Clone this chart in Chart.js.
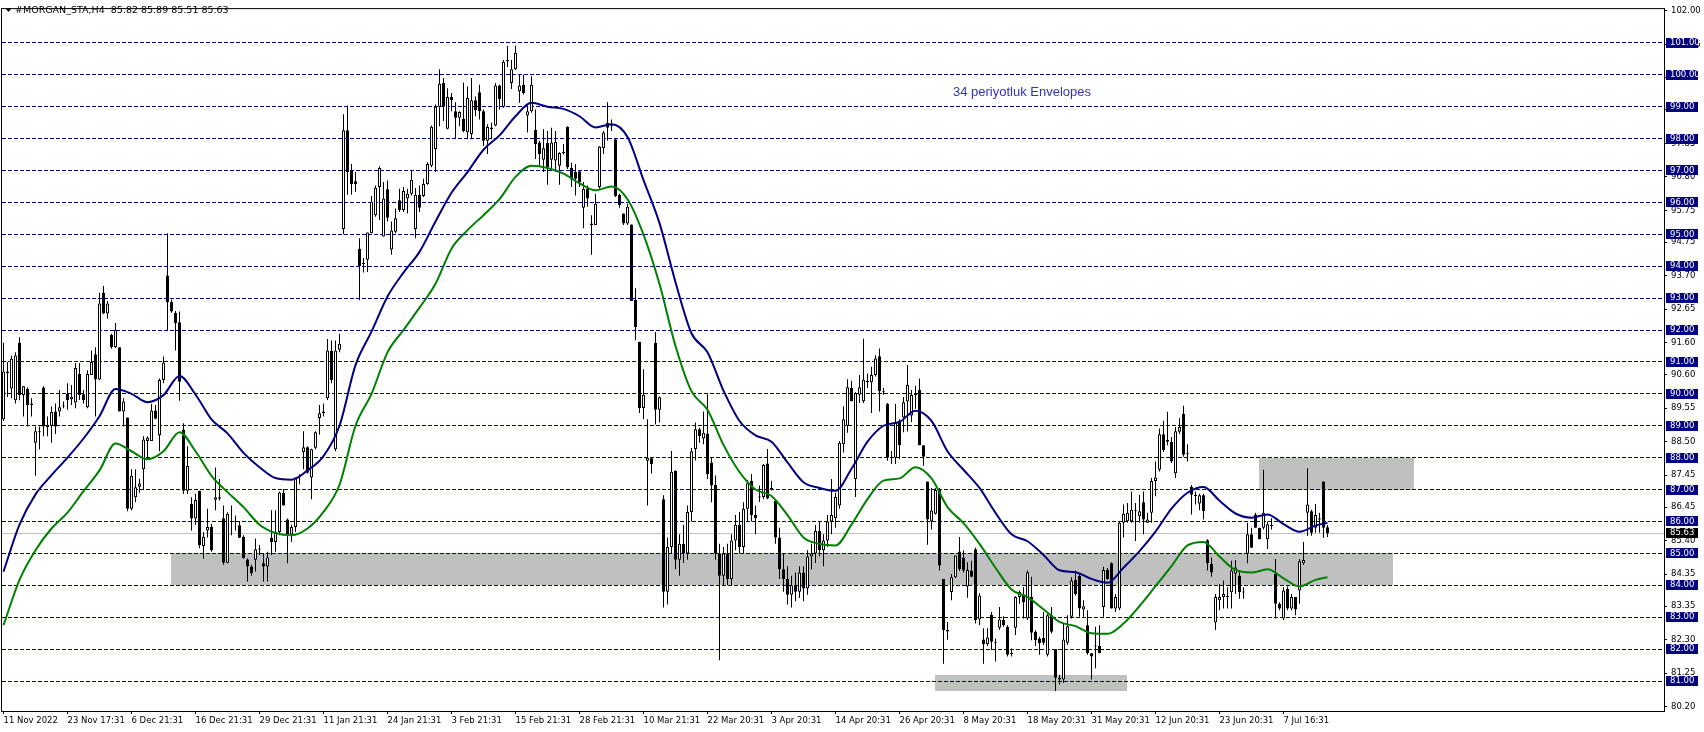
<!DOCTYPE html>
<html>
<head>
<meta charset="utf-8">
<script src="https://cdn.jsdelivr.net/npm/chart.js@4.4.1/dist/chart.umd.min.js"></script>
<style>
  html, body { margin: 0; padding: 0; background: #fff; }
  canvas { display: block; }
</style>
</head>
<body>
<canvas id="chart" width="1704" height="732"></canvas>
<script>
// H4 candles, bar index 0..331
const opens = [
  89.2, 90.7, 90.17, 89.8, 91.6, 89.96, 90.15, 89.7, 88.47, 88.83,
  90.2, 88.96, 89.0, 89.45, 89.45, 89.6, 90.0, 89.83, 89.73, 90.62,
  89.99, 89.58, 90.59, 91.24, 90.45, 93.17, 92.52, 91.85, 91.46, 91.46,
  89.45, 89.26, 86.4, 86.76, 87.09, 87.64, 88.52, 88.52, 89.48, 88.7,
  90.43, 93.71, 92.88, 92.53, 92.24, 88.88, 86.96, 86.55, 86.09, 86.96,
  85.23, 85.72, 85.83, 86.68, 86.71, 86.1, 84.71, 85.99, 86.0, 85.88,
  85.52, 84.81, 84.59, 84.8, 85.13, 84.69, 84.59, 85.5, 85.36, 85.67,
  86.89, 86.06, 85.59, 85.83, 87.4, 88.18, 88.33, 87.38, 88.31, 89.24,
  89.4, 89.86, 91.34, 88.26, 91.38, 95.17, 98.26, 97.02, 96.66, 94.55,
  94.07, 94.2, 95.03, 95.6, 96.48, 94.93, 96.41, 94.52, 95.08, 96.07,
  95.76, 96.12, 96.27, 95.17, 96.24, 96.2, 96.58, 97.15, 97.67, 99.0,
  99.74, 98.31, 99.3, 98.86, 98.65, 98.62, 98.2, 98.14, 99.2, 99.45,
  98.86, 97.93, 98.35, 98.41, 99.66, 99.0, 100.42, 99.74, 100.17, 99.48,
  99.69, 98.72, 98.86, 98.27, 97.88, 97.34, 97.86, 97.34, 97.31, 97.15,
  97.55, 98.37, 97.08, 96.95, 96.98, 95.83, 96.43, 95.34, 95.29, 96.48,
  97.7, 98.5, 98.4, 97.98, 96.24, 95.65, 95.34, 95.31, 92.94, 91.63,
  89.56, 87.9, 87.98, 91.6, 89.5, 86.7, 83.8, 85.2, 87.59, 84.8,
  85.3, 85.0, 86.3, 88.27, 88.89, 88.6, 88.76, 87.85, 87.15, 85.0,
  84.3, 85.0, 84.2, 85.4, 85.9, 85.2, 86.4, 87.28, 86.2, 86.75,
  86.77, 87.82, 87.0, 86.65, 85.5, 84.5, 84.2, 83.7, 84.0, 83.8,
  84.4, 83.9, 84.9, 85.0, 85.7, 85.1, 85.4, 86.0, 86.1, 86.5,
  88.42, 89.0, 90.18, 87.33, 89.97, 89.77, 90.36, 90.36, 90.59, 91.18,
  90.08, 89.69, 88.0, 88.0, 89.14, 89.26, 89.76, 89.32, 89.96, 90.12,
  88.39, 87.25, 86.0, 86.24, 86.99, 84.2, 82.6, 83.79, 84.25, 85.06,
  84.87, 83.96, 84.46, 85.13, 82.93, 82.3, 82.15, 83.07, 82.23, 82.67,
  82.91, 82.7, 81.87, 82.67, 83.63, 83.71, 82.96, 83.63, 82.54, 82.33,
  82.35, 81.82, 83.06, 82.0, 81.1, 81.05, 82.2, 83.01, 84.17, 84.3,
  83.24, 82.75, 81.87, 82.08, 82.1, 83.32, 84.48, 84.69, 83.27, 83.27,
  85.96, 86.01, 86.01, 86.32, 86.16, 86.6, 85.96, 86.27, 87.27, 87.62,
  88.73, 88.5, 88.5, 87.51, 88.81, 89.37, 88.14, 87.09, 86.8, 86.56,
  86.82, 85.41, 84.67, 82.83, 83.53, 83.63, 83.63, 83.78, 84.36, 84.3,
  83.79, 84.99, 85.6, 86.22, 85.8, 85.8, 85.44, 85.86, 84.35, 83.42,
  82.96, 83.89, 83.27, 83.63, 83.84, 84.69, 86.27, 86.32, 85.8, 86.06, 87.25, 85.82
];
const highs = [
  91.6, 91.0, 91.2, 91.3, 91.77, 90.24, 90.2, 89.86, 88.98, 88.98,
  90.24, 89.29, 89.6, 89.7, 90.12, 89.76, 90.33, 90.28, 90.97, 90.97,
  90.12, 90.74, 91.36, 91.46, 93.17, 93.38, 92.91, 91.88, 92.22, 91.46,
  89.86, 89.26, 87.64, 87.64, 87.34, 88.67, 88.67, 89.68, 89.65, 90.48,
  91.17, 95.03, 92.96, 92.6, 92.58, 89.08, 88.36, 86.76, 86.87, 86.96,
  85.67, 86.4, 85.93, 87.69, 87.33, 86.5, 86.29, 86.5, 86.19, 85.99,
  85.57, 84.84, 84.64, 85.47, 85.26, 85.0, 85.05, 86.35, 86.35, 86.94,
  87.02, 86.09, 85.9, 87.38, 87.48, 88.83, 88.36, 88.28, 88.83, 89.65,
  89.7, 91.72, 91.67, 91.67, 91.88, 98.76, 99.04, 97.2, 96.95, 94.88,
  94.26, 95.06, 96.2, 96.53, 97.13, 96.64, 96.69, 95.4, 95.81, 96.43,
  96.48, 96.43, 97.02, 96.45, 96.53, 96.74, 97.26, 98.41, 99.07, 100.17,
  99.9, 99.58, 99.43, 99.14, 98.86, 99.76, 99.63, 99.9, 99.32, 99.69,
  98.91, 98.45, 98.5, 99.74, 99.69, 100.46, 100.9, 100.46, 100.91, 100.0,
  100.0, 99.04, 99.95, 98.91, 97.93, 98.29, 98.24, 98.34, 98.24, 97.57,
  97.83, 98.39, 97.24, 97.2, 97.0, 96.64, 96.53, 95.6, 96.27, 97.77,
  98.24, 99.14, 98.6, 97.98, 96.27, 95.65, 95.96, 95.31, 93.31, 91.63,
  90.77, 89.2, 88.0, 91.94, 89.92, 86.82, 85.5, 88.21, 87.6, 85.6,
  85.9, 86.5, 88.3, 89.1, 88.94, 89.45, 89.99, 88.0, 87.44, 85.3,
  85.2, 85.3, 85.6, 86.2, 86.3, 86.6, 87.3, 87.49, 86.5, 87.13,
  87.8, 88.27, 87.28, 86.7, 85.8, 85.0, 84.6, 84.3, 84.4, 84.6,
  84.6, 85.1, 85.3, 85.9, 86.0, 85.6, 86.2, 87.33, 86.9, 88.52,
  89.61, 90.46, 90.41, 90.05, 90.59, 91.73, 90.64, 90.85, 91.21, 91.42,
  90.18, 89.71, 88.21, 89.69, 89.2, 89.9, 90.9, 90.12, 90.25, 90.48,
  88.39, 87.25, 87.05, 87.05, 87.05, 84.2, 82.85, 84.35, 84.93, 85.51,
  85.1, 84.72, 84.77, 85.18, 83.75, 82.65, 82.65, 83.16, 82.33, 83.32,
  83.03, 82.75, 82.02, 83.66, 83.84, 83.94, 84.46, 84.27, 82.59, 82.39,
  83.16, 83.11, 83.32, 82.0, 81.2, 82.8, 83.06, 84.25, 84.46, 84.36,
  83.53, 83.22, 81.87, 82.7, 82.75, 84.58, 84.54, 84.72, 83.73, 86.01,
  86.53, 86.58, 86.94, 86.58, 86.84, 86.94, 86.27, 87.36, 87.88, 88.91,
  89.16, 89.44, 88.65, 88.96, 89.24, 89.63, 88.42, 87.14, 86.94, 86.87,
  86.87, 85.44, 84.87, 83.73, 84.04, 84.15, 83.94, 84.77, 84.79, 84.46,
  83.94, 85.96, 85.8, 86.27, 85.8, 87.62, 86.0, 86.1, 84.82, 83.47,
  83.94, 83.96, 83.73, 83.63, 84.82, 85.36, 87.67, 86.37, 86.55, 86.27, 87.25, 85.89
];
const lows = [
  89.15, 89.9, 89.86, 89.7, 89.8, 89.29, 88.98, 89.29, 87.43, 88.26,
  88.67, 88.67, 88.47, 88.74, 89.29, 89.55, 89.5, 89.65, 89.55, 89.81,
  89.7, 89.55, 90.59, 89.29, 90.43, 92.5, 92.35, 91.41, 91.44, 89.45,
  88.98, 86.32, 86.35, 86.6, 86.9, 87.0, 87.95, 88.52, 89.2, 88.2,
  90.33, 91.98, 92.54, 91.36, 89.78, 86.86, 86.86, 85.72, 85.9, 85.16,
  84.84, 85.5, 85.05, 86.35, 86.66, 84.64, 84.69, 85.57, 85.72, 85.48,
  84.84, 84.12, 84.3, 84.43, 84.95, 84.12, 84.12, 84.95, 85.05, 85.57,
  86.5, 84.69, 85.36, 85.67, 87.17, 87.64, 87.5, 86.7, 88.26, 88.72,
  89.29, 89.81, 90.33, 88.2, 91.3, 95.0, 96.24, 96.24, 96.33, 92.93,
  93.8, 93.82, 95.03, 95.55, 95.45, 94.93, 95.4, 94.36, 95.03, 95.7,
  95.7, 95.65, 96.22, 94.88, 95.7, 96.17, 96.55, 97.1, 96.95, 98.39,
  98.55, 98.29, 98.86, 98.0, 98.39, 98.2, 97.98, 97.98, 98.7, 98.6,
  97.77, 97.52, 97.98, 98.39, 98.91, 98.96, 100.24, 99.55, 100.15, 99.12,
  99.38, 98.19, 98.81, 97.36, 97.15, 96.95, 96.55, 97.05, 96.95, 96.55,
  97.5, 97.05, 96.48, 96.22, 96.48, 95.19, 95.86, 94.36, 95.29, 96.43,
  97.52, 97.93, 98.24, 96.17, 95.83, 95.29, 95.29, 92.91, 91.68, 89.4,
  89.2, 86.5, 87.5, 89.04, 89.1, 83.3, 83.4, 85.0, 84.5, 84.3,
  84.7, 84.8, 86.0, 87.91, 88.47, 88.42, 87.33, 86.6, 84.8, 81.65,
  84.0, 84.0, 84.0, 85.1, 85.0, 85.0, 86.0, 86.0, 85.6, 86.61,
  86.7, 86.7, 86.97, 85.3, 84.2, 83.8, 83.4, 83.3, 83.5, 83.6,
  83.5, 83.7, 84.5, 84.7, 84.9, 84.6, 85.2, 85.6, 85.8, 86.4,
  88.16, 88.78, 89.77, 86.77, 89.71, 89.71, 90.18, 89.4, 90.54, 89.45,
  89.97, 87.9, 87.8, 87.8, 87.96, 88.8, 88.82, 89.12, 89.53, 88.39,
  87.75, 85.27, 85.75, 86.22, 84.46, 81.54, 82.29, 83.53, 84.23, 84.45,
  84.4, 83.61, 84.25, 82.8, 82.75, 81.54, 82.1, 81.97, 81.61, 82.6,
  82.7, 81.77, 81.77, 82.44, 83.42, 82.96, 82.91, 82.28, 82.1, 81.82,
  82.13, 81.77, 82.49, 80.69, 80.89, 80.94, 82.13, 82.96, 83.68, 83.01,
  83.01, 81.82, 81.05, 81.4, 81.87, 83.01, 84.17, 83.27, 83.16, 83.22,
  85.5, 85.96, 85.96, 85.39, 85.96, 85.6, 85.96, 85.96, 86.79, 87.57,
  88.18, 88.39, 87.83, 87.36, 88.74, 88.03, 87.88, 86.22, 86.53, 86.35,
  86.06, 84.46, 84.27, 82.6, 83.22, 83.27, 83.27, 83.27, 83.73, 83.58,
  83.58, 84.69, 85.18, 85.8, 85.44, 85.75, 85.14, 85.75, 82.96, 83.22,
  82.91, 83.22, 83.22, 83.06, 83.42, 84.64, 85.55, 85.55, 85.65, 85.65, 85.49, 85.51
];
const closes = [
  90.7, 90.65, 91.1, 91.2, 89.96, 90.24, 89.65, 89.65, 88.83, 88.8,
  88.98, 89.03, 89.43, 88.98, 89.58, 89.63, 89.81, 89.91, 90.81, 89.96,
  89.81, 90.62, 91.0, 90.45, 92.83, 92.52, 92.83, 91.46, 92.01, 89.45,
  89.76, 86.4, 87.43, 87.07, 87.19, 88.57, 88.62, 89.48, 89.22, 90.43,
  90.98, 92.88, 92.58, 92.21, 90.38, 86.96, 87.74, 86.09, 86.67, 85.26,
  85.52, 85.83, 85.1, 86.76, 86.76, 84.71, 86.24, 86.0, 85.99, 85.49,
  84.85, 84.59, 84.38, 85.13, 85.12, 84.59, 84.87, 85.36, 85.67, 86.91,
  86.5, 85.59, 85.83, 87.38, 87.4, 88.33, 87.53, 88.26, 88.8, 89.39,
  89.45, 91.36, 90.43, 91.36, 91.57, 98.26, 96.95, 96.58, 96.58, 94.0,
  94.07, 95.06, 96.02, 96.46, 97.08, 96.12, 95.52, 95.12, 95.5, 95.76,
  96.36, 96.27, 96.71, 96.24, 95.83, 96.58, 97.2, 98.37, 99.0, 99.72,
  99.0, 99.3, 99.2, 98.65, 98.83, 98.24, 99.27, 99.2, 98.89, 98.86,
  97.93, 98.36, 98.29, 99.66, 99.24, 100.41, 100.46, 100.17, 100.69, 99.66,
  99.43, 98.86, 99.69, 97.83, 97.52, 97.7, 97.1, 97.88, 97.9, 97.55,
  97.57, 97.1, 96.72, 96.74, 96.64, 96.43, 96.12, 95.29, 95.96, 97.75,
  98.19, 98.34, 98.39, 96.2, 95.91, 95.34, 95.86, 92.91, 92.09, 89.56,
  89.97, 88.0, 87.8, 89.5, 89.89, 83.8, 85.2, 87.56, 84.8, 85.3,
  85.0, 86.3, 88.2, 88.89, 88.68, 88.78, 87.49, 87.13, 85.0, 84.3,
  85.0, 84.2, 85.4, 85.9, 85.2, 86.4, 87.2, 86.2, 86.1, 86.78,
  87.77, 86.72, 87.05, 85.5, 84.5, 84.2, 83.7, 84.0, 83.8, 84.4,
  83.9, 84.9, 85.0, 85.7, 85.1, 85.4, 86.0, 86.2, 86.77, 88.47,
  89.2, 90.21, 89.77, 90.02, 90.21, 90.44, 90.41, 90.59, 91.11, 90.08,
  90.05, 88.0, 88.03, 89.1, 88.39, 89.74, 90.28, 89.96, 89.98, 88.39,
  88.03, 86.06, 86.34, 86.99, 84.62, 82.6, 82.55, 84.25, 84.93, 84.5,
  84.46, 84.48, 84.27, 82.91, 83.68, 82.15, 82.36, 82.23, 82.2, 82.93,
  82.75, 81.82, 81.85, 83.63, 83.79, 83.47, 84.41, 82.51, 82.28, 82.18,
  82.2, 83.06, 82.54, 81.1, 81.05, 82.3, 82.72, 84.15, 83.73, 83.27,
  83.34, 81.87, 81.77, 82.1, 81.87, 84.48, 84.2, 83.27, 83.63, 85.96,
  86.24, 86.27, 86.37, 86.32, 86.32, 86.06, 86.06, 87.27, 87.38, 88.73,
  88.24, 88.55, 87.88, 88.83, 88.96, 88.09, 88.11, 86.84, 86.82, 86.82,
  86.33, 84.69, 84.4, 83.63, 83.63, 83.73, 83.65, 84.46, 84.56, 83.79,
  83.77, 85.6, 85.18, 85.8, 85.44, 86.27, 85.91, 85.88, 83.42, 83.27,
  83.84, 83.27, 83.63, 83.24, 84.75, 84.79, 86.53, 85.65, 86.2, 86.1, 85.8, 85.63
];

// Envelopes (34), read every 4th bar
const envIdx = [
  0, 4, 8, 12, 16, 20, 24, 28, 32, 36, 40, 44, 48, 52, 56, 60, 64, 68, 72, 76,
  80, 84, 88, 92, 96, 100, 104, 108, 112, 116, 120, 124, 128, 132, 136, 140, 144, 148, 152, 156,
  160, 164, 168, 172, 176, 180, 184, 188, 192, 196, 200, 204, 208, 212, 216, 220, 224, 228, 232, 236,
  240, 244, 248, 252, 256, 260, 264, 268, 272, 276, 280, 284, 288, 292, 296, 300, 304, 308, 312, 316,
  320, 324, 328, 331
];
const envUpper = [
  84.43, 85.9, 86.85, 87.45, 88.0, 88.6, 89.3, 90.15, 90.0, 89.74, 89.96, 90.56, 89.98, 89.2, 88.76, 88.15, 87.7, 87.36, 87.31, 87.6,
  88.05, 89.0, 90.9, 91.95, 93.05, 93.8, 94.45, 95.4, 96.3, 96.95, 97.65, 98.1, 98.7, 99.12, 99.0, 98.93, 98.7, 98.35, 98.45, 98.05,
  96.7, 95.35, 93.5, 91.9, 91.3, 90.1, 89.15, 88.7, 88.5, 87.85, 87.23, 87.05, 86.96, 87.65, 88.5, 89.0, 89.12, 89.47, 89.15, 88.2,
  87.62, 87.05, 86.27, 85.6, 85.38, 84.95, 84.47, 84.41, 84.2, 84.08, 84.55, 85.07, 85.68, 86.4, 86.9, 87.08, 86.65, 86.25, 86.12, 86.22,
  85.92, 85.68, 85.87, 85.96
];
const envLower = [
  82.75, 84.17, 85.1, 85.78, 86.28, 86.95, 87.6, 88.44, 88.2, 87.95, 88.2, 88.8, 88.2, 87.43, 86.92, 86.45, 85.9, 85.64, 85.57, 85.78,
  86.3, 87.15, 89.0, 90.0, 91.3, 92.0, 92.7, 93.45, 94.55, 95.13, 95.6, 96.1, 96.8, 97.15, 97.08, 96.9, 96.6, 96.38, 96.5, 96.1,
  94.99, 93.44, 91.5, 90.08, 89.5, 88.4, 87.55, 87.0, 86.8, 86.2, 85.5, 85.3, 85.25, 85.9, 86.7, 87.28, 87.35, 87.7, 87.35, 86.45,
  85.95, 85.3, 84.55, 83.87, 83.63, 83.25, 82.85, 82.72, 82.5, 82.48, 82.8, 83.35, 83.97, 84.6, 85.25, 85.36, 84.9, 84.48, 84.4, 84.5,
  84.22, 83.96, 84.17, 84.25
];

const xTickIdx = [0, 16, 32, 48, 64, 80, 96, 112, 128, 144, 160, 176, 192, 208, 224, 240, 256, 272, 288, 304, 320];
const xTickLabels = [
  '11 Nov 2022', '23 Nov 17:31', '6 Dec 21:31', '16 Dec 21:31', '29 Dec 21:31', '11 Jan 21:31',
  '24 Jan 21:31', '3 Feb 21:31', '15 Feb 21:31', '28 Feb 21:31', '10 Mar 21:31', '22 Mar 20:31',
  '3 Apr 20:31', '14 Apr 20:31', '26 Apr 20:31', '8 May 20:31', '18 May 20:31', '31 May 20:31',
  '12 Jun 20:31', '23 Jun 20:31', '7 Jul 16:31'
];
const yTickValues = [102.00, 100.95, 99.90, 98.90, 97.85, 96.80, 95.75, 94.75, 93.70, 92.65, 91.60,
  90.60, 89.55, 88.50, 87.45, 86.45, 85.40, 84.35, 83.35, 82.30, 81.25, 80.20];
const levelLines = [81, 82, 83, 84, 85, 86, 87, 88, 89, 90, 91, 92, 93, 94, 95, 96, 97, 98, 99, 100, 101];
const lastPrice = 85.63;
// grey zones: [fromBar, toBar, low, high]
const zones = [
  [41.9, 347.4, 84, 85],
  [313.9, 352.6, 87, 88],
  [232.9, 280.9, 80.7, 81.2]
];

const FONT = 'DejaVu Sans';
Chart.defaults.font.family = FONT;
Chart.defaults.font.size = 8.5;
Chart.defaults.color = '#000';

const idx = opens.map((_, i) => i);

const decor = {
  id: 'decor',
  beforeDatasetsDraw(chart) {
    const { ctx, chartArea: a, scales: { x, y } } = chart;
    ctx.save();
    ctx.beginPath();
    ctx.rect(a.left, a.top, a.right - a.left, a.bottom - a.top);
    ctx.clip();

    ctx.fillStyle = '#c0c0c0';
    zones.forEach(z => {
      const x0 = Math.round(x.getPixelForValue(z[0]));
      const x1 = Math.round(x.getPixelForValue(z[1]));
      const y0 = Math.round(y.getPixelForValue(z[3]));
      const y1 = Math.round(y.getPixelForValue(z[2]));
      ctx.fillRect(x0, y0, x1 - x0, y1 - y0);
    });

    // last price line
    const py = Math.floor(y.getPixelForValue(lastPrice)) + 0.5;
    ctx.strokeStyle = '#c0c0c0';
    ctx.lineWidth = 1;
    ctx.beginPath();
    ctx.moveTo(a.left, py);
    ctx.lineTo(a.right, py);
    ctx.stroke();

    // horizontal levels
    ctx.strokeStyle = '#000080';
    ctx.setLineDash([4, 2]);
    levelLines.forEach(v => {
      const ly = Math.floor(y.getPixelForValue(v)) + 0.5;
      ctx.beginPath();
      ctx.moveTo(a.left, ly);
      ctx.lineTo(a.right, ly);
      ctx.stroke();
    });
    ctx.restore();
  },
  afterDraw(chart) {
    const { ctx, chartArea: a, scales: { y } } = chart;
    ctx.save();
    // frame
    ctx.strokeStyle = '#000';
    ctx.lineWidth = 1;
    ctx.strokeRect(a.left - 0.5, a.top - 0.5, a.right - a.left + 1, a.bottom - a.top + 1);

    // price labels of the levels
    ctx.font = '8.5px ' + FONT;
    ctx.textBaseline = 'middle';
    ctx.textAlign = 'left';
    levelLines.forEach(v => {
      const ly = y.getPixelForValue(v);
      ctx.fillStyle = '#000080';
      ctx.fillRect(a.right + 2, Math.round(ly) - 5, 32, 10);
      ctx.fillStyle = '#fff';
      ctx.fillText(v.toFixed(2), a.right + 6, ly);
    });
    const py = y.getPixelForValue(lastPrice);
    ctx.fillStyle = '#000';
    ctx.fillRect(a.right + 2, Math.round(py) - 5, 32, 10);
    ctx.fillStyle = '#fff';
    ctx.fillText(lastPrice.toFixed(2), a.right + 6, py);

    // header
    ctx.fillStyle = '#000';
    ctx.beginPath();
    ctx.moveTo(5.5, 8.5);
    ctx.lineTo(11.5, 8.5);
    ctx.lineTo(8.5, 12);
    ctx.closePath();
    ctx.fill();
    ctx.font = '9.5px ' + FONT;
    ctx.fillText('#MORGAN_STA,H4  85.82 85.89 85.51 85.63', 15, 11);

    // note
    ctx.font = '13px "Liberation Sans", Arial, sans-serif';
    ctx.textBaseline = 'alphabetic';
    ctx.fillStyle = '#3232c0';
    ctx.fillText('34 periyotluk Envelopes', 953, 96);
    ctx.restore();
  }
};

new Chart(document.getElementById('chart'), {
  type: 'bar',
  data: {
    datasets: [
      {
        type: 'line',
        label: 'Envelopes upper',
        data: envIdx.map((b, k) => ({ x: b, y: envUpper[k] })),
        borderColor: '#000080',
        borderWidth: 2,
        pointRadius: 0,
        cubicInterpolationMode: 'monotone',
        order: 0
      },
      {
        type: 'line',
        label: 'Envelopes lower',
        data: envIdx.map((b, k) => ({ x: b, y: envLower[k] })),
        borderColor: '#008000',
        borderWidth: 2,
        pointRadius: 0,
        cubicInterpolationMode: 'monotone',
        order: 0
      },
      {
        label: 'body',
        data: idx.map(i => ({ x: i, y: [opens[i], closes[i]] })),
        backgroundColor: idx.map(i => closes[i] >= opens[i] ? '#ffffff' : '#000000'),
        borderColor: '#000',
        borderWidth: 1,
        borderSkipped: false,
        inflateAmount: 0,
        barThickness: 3,
        minBarLength: 1,
        grouped: false,
        order: 1
      },
      {
        label: 'wick',
        data: idx.map(i => ({ x: i, y: [lows[i], highs[i]] })),
        backgroundColor: '#000',
        borderWidth: 0,
        inflateAmount: 0,
        barThickness: 1,
        grouped: false,
        order: 2
      }
    ]
  },
  options: {
    responsive: false,
    devicePixelRatio: 1,
    animation: false,
    events: [],
    layout: { padding: { left: 2, top: 2, right: 0, bottom: 0 } },
    plugins: { legend: { display: false }, tooltip: { enabled: false } },
    scales: {
      x: {
        type: 'linear',
        min: -0.375,
        max: 415.125,
        offset: false,
        bounds: 'data',
        border: { display: false },
        grid: { offset: false, drawOnChartArea: false, drawTicks: true, tickLength: 3, color: '#000' },
        afterBuildTicks: s => { s.ticks = xTickIdx.map(v => ({ value: v })); },
        afterFit: s => { s.height = 21; },
        ticks: {
          autoSkip: false,
          maxRotation: 0,
          align: 'start',
          padding: 2,
          color: '#000',
          font: { size: 8.5, family: FONT },
          callback: (v, i) => xTickLabels[i]
        }
      },
      y: {
        position: 'right',
        min: 80.06,
        max: 102.058,
        bounds: 'data',
        border: { display: false },
        grid: { drawOnChartArea: false, drawTicks: true, tickLength: 3, color: '#000' },
        afterBuildTicks: s => { s.ticks = yTickValues.map(v => ({ value: v })); },
        afterFit: s => { s.width = 40; },
        ticks: {
          autoSkip: false,
          padding: 4,
          color: '#000',
          font: { size: 8.5, family: FONT },
          callback: v => Number(v).toFixed(2)
        }
      }
    }
  },
  plugins: [decor]
});
</script>
</body>
</html>
